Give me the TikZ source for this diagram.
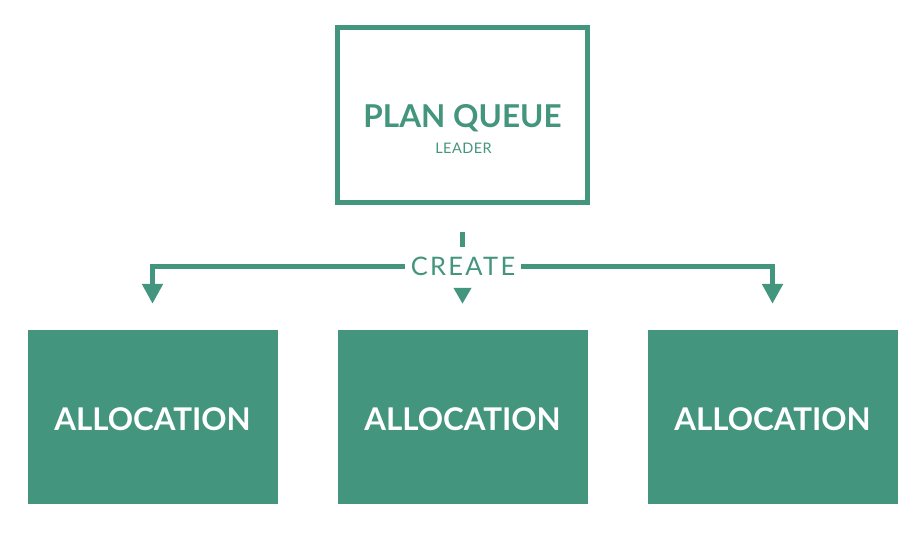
\documentclass[tikz,border=0pt]{standalone}
\usepackage{fontspec}
\setmainfont{Lato}
\usetikzlibrary{arrows.meta}
\definecolor{teal}{RGB}{67,149,125}
\begin{document}
\begin{tikzpicture}[x=1pt,y=-1pt,
  conn/.style={draw=teal,line width=5pt,line join=miter},
  bigtip/.style={-{Triangle[width=20pt,length=20pt]}},
  smalltip/.style={-{Triangle[width=17pt,length=16pt]}},
  topbox/.style={draw=teal,line width=5pt,minimum width=250pt,minimum height=175pt,inner sep=0pt},
  allocbox/.style={fill=teal,minimum width=250pt,minimum height=174pt,inner sep=0pt,
    text height=26.6pt,text depth=0pt,
    text=white,font=\fontsize{31.3}{36}\selectfont\bfseries},
]
\useasboundingbox (0,0) rectangle (915,533);
\node[topbox] (top) at (462.5,115) {};
\node[anchor=base,text=teal,font=\fontsize{31.5}{38}\selectfont\bfseries,inner sep=0pt] (title) at (462.5,127) {PLAN QUEUE};
\node[anchor=base,text=teal,font=\fontsize{14.5}{17}\selectfont\addfontfeatures{LetterSpace=3},inner sep=0pt] (sub) at (463.5,153) {LEADER};

\node[allocbox] (a1) at (152.5,417) {ALLOCATION};
\node[allocbox] (a2) at (462.5,417) {ALLOCATION};
\node[allocbox] (a3) at (772.5,417) {ALLOCATION};

\node[text=teal,font=\fontsize{25.5}{30}\selectfont\addfontfeatures{LetterSpace=9},inner xsep=5.5pt,inner ysep=0pt] (create) at (463,266.5) {CREATE};

\draw[conn] ([yshift=-26.5pt]top.south) -- ([yshift=-41.5pt]top.south);
\draw[conn,bigtip] (create.west) -- (create.west -| a1.north) -- ([yshift=26pt]a1.north);
\draw[conn,bigtip] (create.east) -- (create.east -| a3.north) -- ([yshift=26pt]a3.north);
\draw[conn,smalltip] ([yshift=42pt]a2.north) -- ([yshift=26pt]a2.north);
\end{tikzpicture}
\end{document}
